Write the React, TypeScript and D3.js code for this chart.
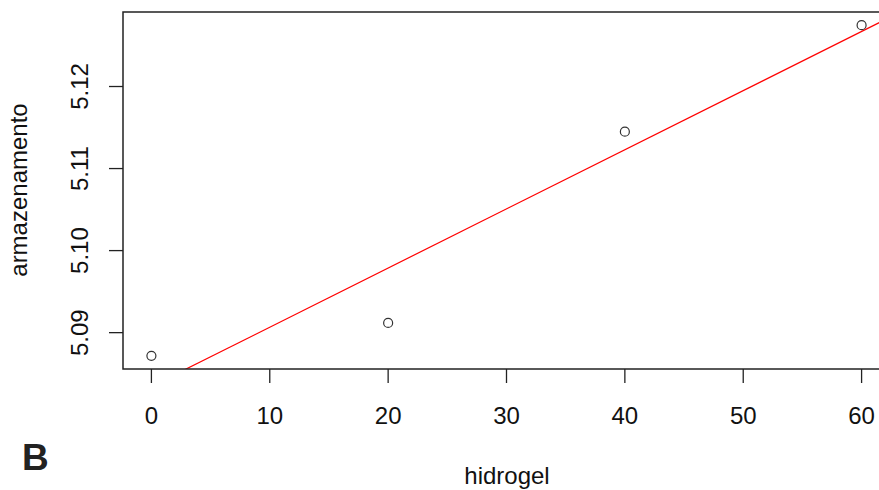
import { useRef, useEffect } from "react";
import * as d3 from "d3";

// hidrogel dose vs armazenamento
const hidrogel = [0, 20, 40, 60];
const armazenamento = [5.08718, 5.09119, 5.11449, 5.12747];
const xTicks = [0, 10, 20, 30, 40, 50, 60];
const yTicks = [5.09, 5.1, 5.11, 5.12];

const W = 879;
const H = 490;
const FONT = "'Liberation Sans', Arial, sans-serif";

export default function App() {
  const svgRef = useRef<SVGSVGElement>(null);

  useEffect(() => {
    if (!svgRef.current) return;
    const svg = d3.select(svgRef.current);
    svg.selectAll("*").remove();

    // R-style 4% padding on data ranges
    const pad = (ext: [number, number]) => {
      const r = ext[1] - ext[0];
      return [ext[0] - r * 0.04, ext[1] + r * 0.04];
    };
    const xDom = pad(d3.extent(hidrogel) as [number, number]);
    const yDom = pad(d3.extent(armazenamento) as [number, number]);

    const left = 123, top = 12, bottom = 369, right = 890;
    const x = d3.scaleLinear().domain(xDom).range([left, right]);
    const y = d3.scaleLinear().domain(yDom).range([bottom, top]);

    // linear fit
    const mx = d3.mean(hidrogel)!;
    const my = d3.mean(armazenamento)!;
    const sxy = d3.sum(hidrogel, (v, i) => (v - mx) * (armazenamento[i] - my));
    const sxx = d3.sum(hidrogel, (v) => (v - mx) ** 2);
    const b = sxy / sxx;
    const a = my - b * mx;

    svg.append("defs").append("clipPath").attr("id", "plotclip")
      .append("rect").attr("x", left).attr("y", top)
      .attr("width", right - left).attr("height", bottom - top);

    const line = d3.line<number>().x((d) => x(d)).y((d) => y(a + b * d));
    svg.append("path")
      .datum(xDom)
      .attr("clip-path", "url(#plotclip)")
      .attr("fill", "none")
      .attr("stroke", "#ff0000")
      .attr("stroke-width", 1.2)
      .attr("d", line);

    svg.append("g")
      .selectAll("circle")
      .data(hidrogel)
      .join("circle")
      .attr("cx", (d) => x(d))
      .attr("cy", (_, i) => y(armazenamento[i]))
      .attr("r", 4.5)
      .attr("fill", "none")
      .attr("stroke", "#333")
      .attr("stroke-width", 1.2);

    // box
    svg.append("rect")
      .attr("x", left).attr("y", top)
      .attr("width", right - left).attr("height", bottom - top)
      .attr("fill", "none")
      .attr("stroke", "#222")
      .attr("stroke-width", 1.5);

    // x axis
    const xa = svg.append("g");
    xa.selectAll("line").data(xTicks).join("line")
      .attr("x1", (d) => x(d)).attr("x2", (d) => x(d))
      .attr("y1", bottom).attr("y2", bottom + 14)
      .attr("stroke", "#222").attr("stroke-width", 1.3);
    xa.selectAll("text").data(xTicks).join("text")
      .attr("x", (d) => x(d)).attr("y", 424)
      .attr("text-anchor", "middle")
      .attr("font-family", FONT).attr("font-size", 24).attr("fill", "#111")
      .text((d) => d);

    // y axis
    const ya = svg.append("g");
    ya.selectAll("line").data(yTicks).join("line")
      .attr("x1", left - 14).attr("x2", left)
      .attr("y1", (d) => y(d)).attr("y2", (d) => y(d))
      .attr("stroke", "#222").attr("stroke-width", 1.3);
    ya.selectAll("text").data(yTicks).join("text")
      .attr("transform", (d) => `translate(88,${y(d)}) rotate(-90)`)
      .attr("text-anchor", "middle")
      .attr("font-family", FONT).attr("font-size", 24).attr("fill", "#111")
      .text((d) => d3.format(".2f")(d));

    svg.append("text")
      .attr("x", 507).attr("y", 484)
      .attr("text-anchor", "middle")
      .attr("font-family", FONT).attr("font-size", 24).attr("fill", "#111")
      .text("hidrogel");

    svg.append("text")
      .attr("transform", "translate(27,190) rotate(-90)")
      .attr("text-anchor", "middle")
      .attr("font-family", FONT).attr("font-size", 24).attr("fill", "#111")
      .text("armazenamento");

    svg.append("text")
      .attr("x", 22).attr("y", 470)
      .attr("font-family", FONT).attr("font-size", 37).attr("font-weight", "bold")
      .attr("fill", "#222")
      .text("B");
  }, []);

  return (
    <svg
      ref={svgRef}
      width={W}
      height={H}
      style={{ position: "absolute", left: 0, top: 0, background: "#fff", display: "block" }}
    />
  );
}
